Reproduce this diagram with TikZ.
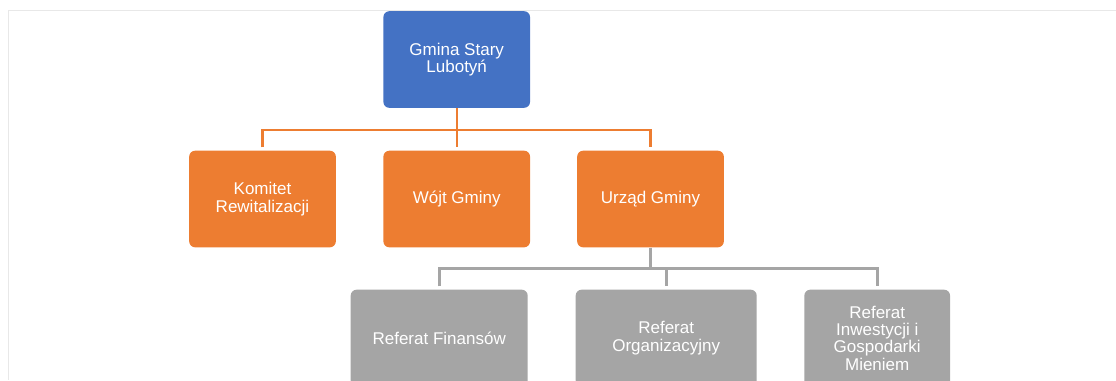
\documentclass[tikz,border=0pt]{standalone}
\usepackage{fontspec}
\setmainfont{Liberation Sans}
\usepackage{tikz}

\definecolor{unitblue}{RGB}{68,114,196}
\definecolor{unitorange}{RGB}{237,125,49}
\definecolor{unitgray}{RGB}{165,165,165}
\definecolor{framegray}{RGB}{232,232,232}

\tikzset{
  unit/.style={rounded corners=4.5pt, text=white, align=center, inner sep=0pt,
    minimum height=72.5pt, font=\fontsize{12.75}{13}\selectfont},
  topunit/.style={unit, fill=unitblue, minimum width=110pt},
  midunit/.style={unit, fill=unitorange, minimum width=110pt},
  lowunit/.style={unit, fill=unitgray},
  orangeline/.style={draw=unitorange, line width=1.6pt, shorten >=2.25pt},
  grayline/.style={draw=unitgray, line width=2pt, shorten >=2.25pt}
}

\begin{document}
\begin{tikzpicture}[x=0.75pt,y=0.75pt,yscale=-1,xscale=1]
%set diagram left start at 0, and has height of 380
\clip (0,0) rectangle (1116,380);

%Frame Lines
\draw [framegray, line width=0.75pt]  (8,380) -- (8,10) -- (1116,10) ;

%Rounded Rect (top)
\node (gmina) at (456.7,59.5) [topunit] {Gmina Stary\\Lubotyń};

%Rounded Rects (middle)
\node (komitet) at (262.5,199) [midunit] {Komitet\\Rewitalizacji};
\node (wojt) at (456.7,199) [midunit] {Wójt Gminy};
\node (urzad) at (650.5,199) [midunit] {Urząd Gminy};

%Rounded Rects (bottom)
\node (finanse) at (439.2,338) [lowunit, minimum width=132.75pt] {Referat Finansów};
\node (organizacja) at (666.2,338) [lowunit, minimum width=135.75pt] {Referat\\Organizacyjny};
\node (inwestycje) at (877.2,338) [lowunit, minimum width=109.3pt] {Referat\\Inwestycji i\\Gospodarki\\Mieniem};

%Bus Points
\coordinate (busA) at (456.7,130);
\coordinate (busB) at (650.5,268.3);

%Straight Lines (orange)
\draw [orangeline, shorten >=0pt]  (gmina) -- (busA) ;
\draw [orangeline, shorten <=2.25pt]  (komitet.north) |- (busA) -| (urzad.north) ;
\draw [orangeline]  (busA) -- (wojt.north) ;

%Straight Lines (gray)
\draw [grayline, shorten >=0pt]  (urzad) -- (busB) ;
\draw [grayline, shorten <=2.25pt]  (finanse.north) |- (busB) -| (inwestycje.north) ;
\draw [grayline]  (busB -| organizacja.north) -- (organizacja.north) ;

\end{tikzpicture}
\end{document}
